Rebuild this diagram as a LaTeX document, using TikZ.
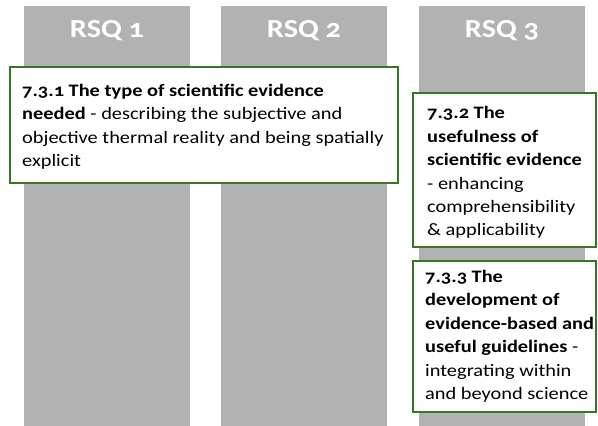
\documentclass[tikz,border=0pt]{standalone}
\usepackage{fontspec}
\setmainfont{Carlito}[Numbers=OldStyle, FakeStretch=1.165]
\definecolor{colgray}{RGB}{178,178,178}
\definecolor{boxgreen}{RGB}{55,118,35}
\begin{document}
\begin{tikzpicture}[x=1pt,y=-1pt,
  colbar/.style={fill=colgray},
  heading/.style={text=white, font=\fontsize{26}{30}\selectfont\bfseries, inner sep=0pt, anchor=base},
  greenbox/.style={draw=boxgreen, line width=1.8pt, fill=white},
  boxtext/.style={anchor=north west, inner sep=0pt, align=left, font=\fontsize{17.5}{23.4}\selectfont}
]
\useasboundingbox (0,0) rectangle (598,426);
% columns
\fill[colbar] (24,6) rectangle (190,426);
\fill[colbar] (221,6) rectangle (387,426);
\fill[colbar] (419,6) rectangle (585,426);
% headings
\node[heading] (h1) at (107,37.3) {RSQ 1};
\node[heading] (h2) at (304,37.3) {RSQ 2};
\node[heading] (h3) at (502,37.3) {RSQ 3};
% boxes
\draw[greenbox] (10,67) rectangle (398,183);
\draw[greenbox] (413,93) rectangle (596,247);
\draw[greenbox] (413,261) rectangle (596,412);
% texts
\node[boxtext] (t1) at (22,84) {\textbf{7.3.1 The type of scientific evidence}\\
\textbf{needed} - describing the subjective and\\
objective thermal reality and being spatially\\
explicit};
\node[boxtext] (t2) at (427,106.5) {\textbf{7.3.2 The}\\
\textbf{usefulness of}\\
\textbf{scientific evidence}\\
- enhancing\\
comprehensibility\\
\& applicability};
\node[boxtext] (t3) at (425,270) {\textbf{7.3.3 The}\\
\textbf{development of}\\
\textbf{evidence-based and}\\
\textbf{useful guidelines} -\\
integrating within\\
and beyond science};
\end{tikzpicture}
\end{document}
